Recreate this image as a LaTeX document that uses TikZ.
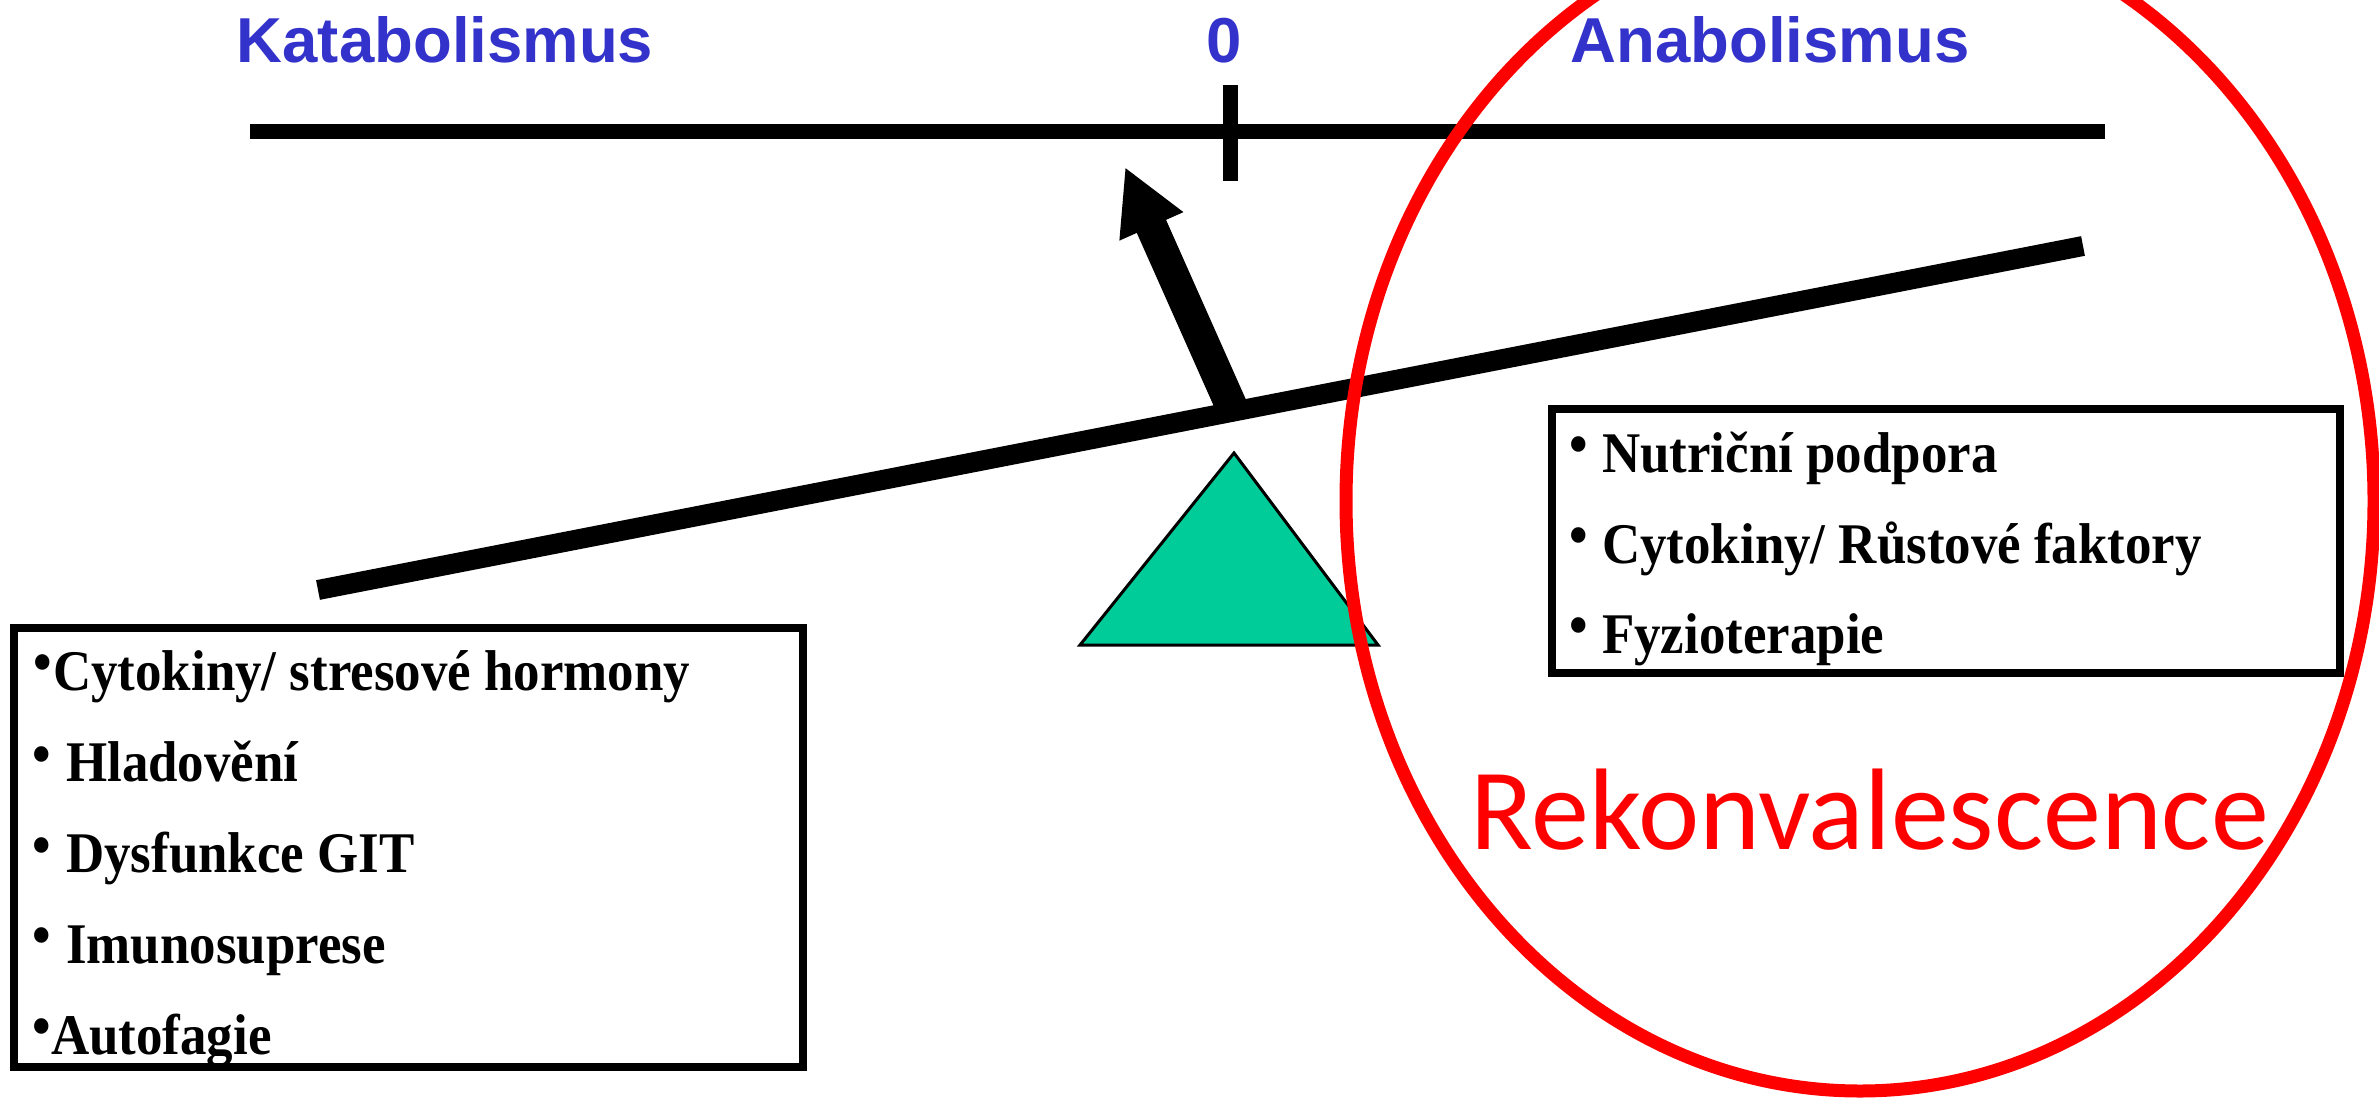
\documentclass[tikz,border=0pt]{standalone}
\usepackage{fontspec}
\setmainfont{Liberation Serif}
\newfontfamily\headfont{Liberation Sans}
\newfontfamily\boxfont[FakeStretch=0.92]{Liberation Serif}
\newfontfamily\rekfont{Carlito}
\usetikzlibrary{arrows.meta}
\definecolor{headblue}{RGB}{51,51,204}
\definecolor{fulcrum}{RGB}{0,204,153}
\definecolor{rekred}{RGB}{255,0,0}
\tikzset{
  head/.style={font=\headfont\bfseries\fontsize{63.5}{70}\selectfont, text=headblue, inner sep=0pt, anchor=base},
  item/.style={font=\boxfont\bfseries\fontsize{57.5}{64}\selectfont, inner sep=0pt, anchor=base west},
  listbox/.style={draw, line width=8pt, inner sep=0pt},
  barline/.style={line width=15pt},
}
\newcommand{\bul}[1]{\llap{\raisebox{8.5pt}{•}\hspace{#1pt}}}
\begin{document}
\begin{tikzpicture}[x=1pt,y=-1pt]
\useasboundingbox (0,0) rectangle (2379,1099);
% scale line with tick
\coordinate (scaleL) at (250,132);
\coordinate (scaleR) at (2105,132);
\draw[barline] (scaleL) -- (scaleR);
\coordinate (tickT) at (1230,85);
\coordinate (tickB) at (1230,181);
\draw[barline] (tickT) -- (tickB);
\node[head] (kat) at (445,63) {Katabolismus};
\node[head] (zero) at (1224,63) {0};
\node[head] (ana) at (1770,63) {Anabolismus};
% beam
\coordinate (beamL) at (318,590);
\coordinate (beamR) at (2083,246);
\draw[line width=20pt] (beamL) -- (beamR);
% arrow
\coordinate (arrS) at (1233.5,411);
\coordinate (arrE) at (1125,167);
\draw[line width=32pt, -{Triangle[width=65pt,length=65pt]}] (arrS) -- (arrE);
% fulcrum
\coordinate (fApex) at (1234,453);
\coordinate (fR) at (1378,645);
\coordinate (fL) at (1080,645);
\draw[fill=fulcrum, line width=3pt, line join=miter] (fApex) -- (fR) -- (fL) -- cycle;
% boxes
\node[listbox, minimum width=789pt, minimum height=439pt] (leftbox) at (408.5,847.5) {};
\node[listbox, minimum width=787.5pt, minimum height=263.5pt] (rightbox) at (1945.75,540.75) {};
\node[item] (l1) at (53,690) {\bul{1}Cytokiny/ stresové hormony};
\node[item] (l2) at (66,781.7) {\bul{15.5}Hladovění};
\node[item] (l3) at (66,872.7) {\bul{15.5}Dysfunkce GIT};
\node[item] (l4) at (66,963.3) {\bul{15.5}Imunosuprese};
\node[item] (l5) at (51,1054) {\bul{0.5}Autofagie};
\node[item] (r1) at (1602,472) {\bul{14}Nutriční podpora};
\node[item] (r2) at (1602,563) {\bul{14}Cytokiny/ Růstové faktory};
\node[item] (r3) at (1602,653) {\bul{14}Fyzioterapie};
% convalescence
\node[font=\rekfont\fontsize{116}{120}\selectfont, text=rekred, inner sep=0pt, anchor=base] (rek) at (1869.5,849) {Rekonvalescence};
\draw[rekred, line width=13pt] (1860,501) ellipse [x radius=514pt, y radius=590pt];
\end{tikzpicture}
\end{document}
